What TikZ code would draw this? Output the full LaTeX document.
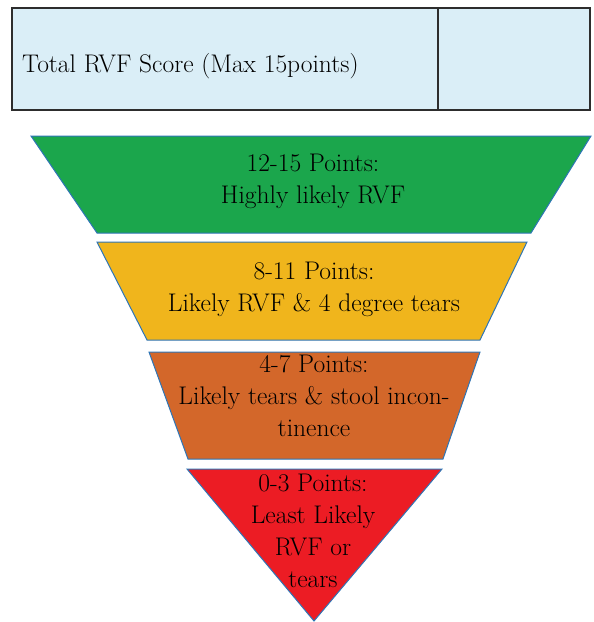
\documentclass[tikz,border=0pt]{standalone}
\usepackage{tikz}

\definecolor{boxblue}{RGB}{218,238,247}
\definecolor{boxline}{RGB}{45,45,45}
\definecolor{edgeblue}{RGB}{46,117,182}
\definecolor{lvlgreen}{RGB}{27,166,76}
\definecolor{lvlyellow}{RGB}{240,181,28}
\definecolor{lvlorange}{RGB}{211,103,42}
\definecolor{lvlred}{RGB}{236,28,36}

\tikzset{
  level/.style={draw=edgeblue,line width=1pt,line join=miter},
  lbl/.style={align=center,font=\fontsize{25.5}{32}\selectfont,inner sep=0pt}
}

\begin{document}
\begin{tikzpicture}[x=1pt,y=-1pt]
      \useasboundingbox (0,0) rectangle (594,622);

      %score box
      \draw[fill=boxblue,draw=boxline,line width=2pt] (12,8) rectangle (590,110);
      \draw[boxline,line width=2pt] (438,8) -- (438,110);
      \node[lbl,anchor=west] (score) at (22,66) {Total RVF Score (Max 15points)};

      %levels
      \draw[level,fill=lvlgreen] (31,136) -- (591,136) -- (531,233) -- (97,233) -- cycle;
      \draw[level,fill=lvlyellow] (97,242) -- (527,242) -- (480,340) -- (147,340) -- cycle;
      \draw[level,fill=lvlorange] (149,352) -- (480,352) -- (443,459) -- (188,459) -- cycle;
      \draw[level,fill=lvlred] (187,469) -- (442,469) -- (314,621) -- cycle;

      \node[lbl] (high) at (313,181) {12-15 Points:\\Highly likely RVF};
      \node[lbl] (likely) at (314,289) {8-11 Points:\\Likely RVF \& 4 degree tears};
      \node[lbl] (tears) at (314,396) {4-7 Points:\\Likely tears \& stool incon-\\tinence};
      \node[lbl] (least) at (313,531) {0-3 Points:\\Least Likely\\RVF or\\tears};
\end{tikzpicture}
\end{document}
